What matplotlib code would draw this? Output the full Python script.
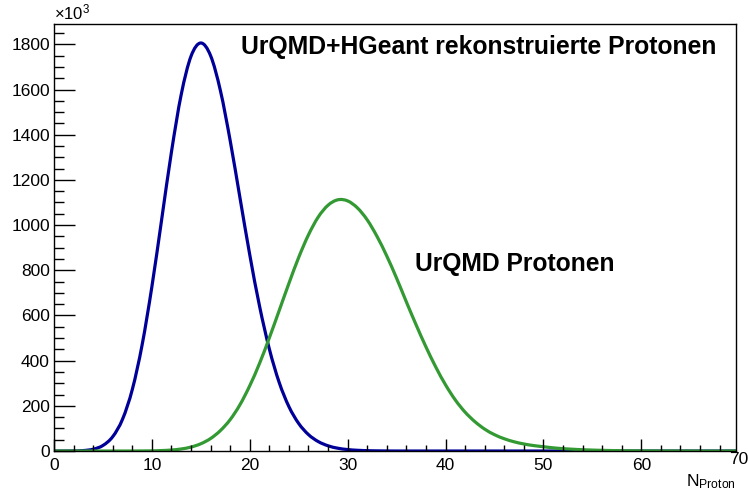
import matplotlib
matplotlib.use('Agg')
import matplotlib.pyplot as plt
import numpy as np
from matplotlib.path import Path
from matplotlib.patches import PathPatch

plt.rcParams['font.family'] = ['Liberation Sans', 'DejaVu Sans']
plt.rcParams['mathtext.fontset'] = 'custom'
plt.rcParams['mathtext.rm'] = 'Liberation Sans'
plt.rcParams['mathtext.it'] = 'Liberation Sans'

# N_Proton Werte 0..70 (Einheiten 10^3)
n_proton = list(range(0, 71))

# UrQMD+HGeant rekonstruierte Protonen
reko = [0, 0, 0.4, 2.0, 7.9, 24.6, 63.6, 140.7, 272.5, 469.4,
        727.5, 1025.1, 1324.0, 1578.6, 1747.7, 1806.0, 1749.6, 1595.2, 1373.6, 1120.6,
        868.5, 641.1, 451.7, 304.3, 196.5, 121.9, 72.6, 41.7, 23.1, 12.3,
        6.4, 3.2, 1.5, 0.7, 0.3, 0, 0, 0, 0, 0,
        0, 0, 0, 0, 0, 0, 0, 0, 0, 0,
        0, 0, 0, 0, 0, 0, 0, 0, 0, 0,
        0, 0, 0, 0, 0, 0, 0, 0, 0, 0, 0]

# UrQMD Protonen
urqmd = [0, 0, 0, 0, 0, 0, 0, 0, 0.1, 0.3,
         0.8, 2.0, 4.4, 9.0, 17.5, 32.1, 55.4, 90.5, 139.0, 205.0,
         289.0, 388.0, 501.0, 621.0, 742.0, 857.0, 957.0, 1036.0, 1088.0, 1112.0,
         1107.0, 1076.0, 1023.0, 950.0, 863.0, 765.0, 660.0, 558.0, 461.0, 372.0,
         293.0, 226.0, 172.0, 130.0, 96.9, 72.4, 54.3, 40.9, 31.2, 24.1,
         19.0, 14.0, 10.5, 7.8, 5.7, 4.1, 2.9, 2.0, 1.4, 0.9,
         0.6, 0.4, 0.25, 0.15, 0.1, 0, 0, 0, 0, 0, 0]


def smooth_curve(ax, xs, ys, color):
    # glatte Kurve durch die Punkte (wie ROOT Option "C")
    p = np.column_stack([xs, ys]).astype(float)
    pe = np.vstack([p[0], p, p[-1]])
    verts = [p[0]]
    codes = [Path.MOVETO]
    for i in range(len(p) - 1):
        c1 = pe[i + 1] + (pe[i + 2] - pe[i]) / 6.0
        c2 = pe[i + 2] - (pe[i + 3] - pe[i + 1]) / 6.0
        verts += [c1, c2, pe[i + 2]]
        codes += [Path.CURVE4] * 3
    patch = PathPatch(Path(verts, codes), fill=False, edgecolor=color,
                      linewidth=2.3, capstyle='round', joinstyle='round')
    ax.add_patch(patch)


fig = plt.figure(figsize=(7.48, 4.92), dpi=100)
ax = fig.add_axes([0.0722, 0.0833, 0.9114, 0.8679])

smooth_curve(ax, n_proton, reko, '#000099')
smooth_curve(ax, n_proton, urqmd, '#339933')

ax.set_xlim(0, 69.65)
ax.set_ylim(0, 1890)

ax.set_xticks(range(0, 61, 10))
ax.set_xticks(np.arange(0, 69.6, 2), minor=True)
ax.set_yticks(range(0, 1801, 200))
ax.set_yticks(range(0, 1851, 50), minor=True)
ax.tick_params(axis='both', which='both', direction='in', top=False, right=False,
               labelsize=12.5, width=1.0)
ax.tick_params(axis='x', which='major', length=8.6, pad=5)
ax.tick_params(axis='x', which='minor', length=4.3)
ax.tick_params(axis='y', which='major', length=15, pad=3)
ax.tick_params(axis='y', which='minor', length=7.5)
for s in ax.spines.values():
    s.set_linewidth(1.0)

ax.text(70, -6, '70', fontsize=12.5, ha='center', va='top', transform=ax.transData,
        clip_on=False)
ax.text(0.0, 1.003, r'$\times\mathregular{10^{3}}$', fontsize=12, ha='left', va='bottom',
        transform=ax.transAxes)
ax.text(1.0, -0.05, r'$\mathregular{N_{Proton}}$', fontsize=12.5, ha='right', va='top',
        transform=ax.transAxes)

ax.text(19.1, 1788, 'UrQMD+HGeant rekonstruierte Protonen', fontsize=17.8,
        fontweight='bold', ha='left', va='center')
ax.text(36.85, 828, 'UrQMD Protonen', fontsize=17.7, fontweight='bold',
        ha='left', va='center')

fig.savefig('out.png', dpi=100)
